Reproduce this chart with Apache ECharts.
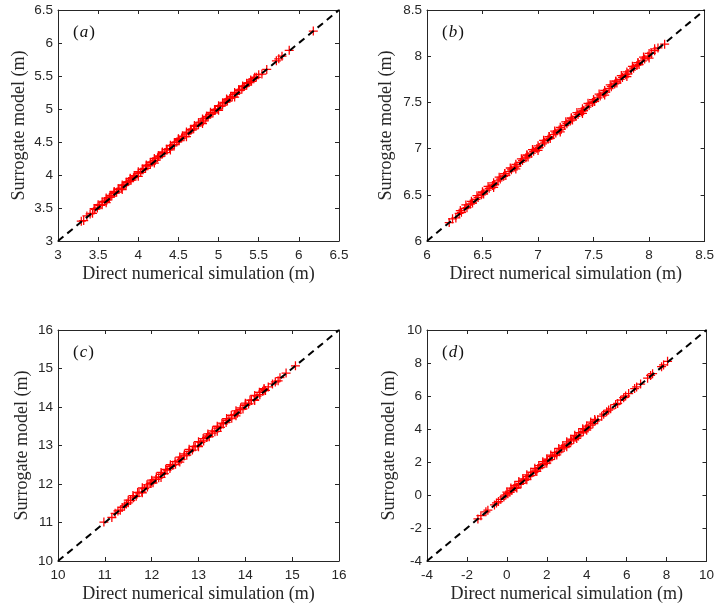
<!DOCTYPE html>
<html>
<head>
<meta charset="utf-8">
<script src="https://cdn.jsdelivr.net/npm/echarts@6/dist/echarts.min.js"></script>
<style>
  html, body { margin: 0; padding: 0; background: #fff; }
  #chart { width: 717px; height: 609px; }
</style>
</head>
<body>
<div id="chart"></div>
<script>
// Surrogate model vs. direct numerical simulation, four cases (a)-(d).
// Each pair is [simulation, surrogate] in metres.
const panelA = [
  [3.29,3.30],[3.32,3.31],[3.36,3.38],[3.40,3.41],[3.43,3.42],[3.46,3.48],[3.49,3.50],[3.52,3.54],
  [3.55,3.55],[3.58,3.60],[3.61,3.62],[3.64,3.66],[3.67,3.68],[3.70,3.72],[3.73,3.74],[3.76,3.78],
  [3.79,3.80],[3.82,3.84],[3.85,3.86],[3.88,3.90],[3.91,3.92],[3.94,3.96],[3.97,3.98],[4.00,4.02],
  [4.03,4.04],[4.06,4.08],[4.09,4.10],[4.12,4.14],[4.15,4.16],[4.18,4.20],[4.21,4.22],[4.24,4.26],
  [4.27,4.28],[4.30,4.32],[4.33,4.34],[4.36,4.38],[4.39,4.40],[4.42,4.44],[4.45,4.46],[4.48,4.50],
  [4.51,4.52],[4.54,4.56],[4.57,4.58],[4.60,4.62],[4.63,4.64],[4.66,4.68],[4.69,4.70],[4.72,4.74],
  [4.75,4.76],[4.78,4.80],[4.81,4.82],[4.84,4.86],[4.87,4.88],[4.90,4.92],[4.93,4.94],[4.96,4.98],
  [4.99,5.00],[5.02,5.04],[5.05,5.06],[5.08,5.10],[5.11,5.12],[5.14,5.16],[5.17,5.18],[5.20,5.22],
  [5.23,5.24],[5.26,5.28],[5.29,5.30],[5.32,5.34],[5.35,5.36],[5.38,5.40],[5.41,5.42],[5.44,5.46],
  [5.47,5.48],[5.50,5.52],[5.54,5.53],[5.60,5.60],[5.72,5.73],[5.75,5.76],[5.79,5.80],[5.88,5.89],
  [6.18,6.18],
  [3.60,3.58],[3.80,3.78],[4.00,3.98],[4.20,4.18],[4.40,4.38],[4.60,4.58],[4.80,4.78],[5.00,4.98],
  [5.20,5.18],[3.70,3.74],[3.90,3.94],[4.10,4.14],[4.30,4.34],[4.50,4.54],[4.70,4.74],[4.90,4.94],
  [5.10,5.14],[5.30,5.34],
  [3.45,3.49],[3.50,3.55],[3.55,3.59],[3.60,3.65],[3.65,3.69],[3.70,3.75],[3.75,3.79],[3.80,3.85],
  [3.85,3.89],[3.90,3.95],[3.95,3.99],[4.00,4.05],[4.05,4.09],[4.10,4.15],[4.15,4.19],[4.20,4.25],
  [4.25,4.29],[4.30,4.35],[4.35,4.39],[4.40,4.45],[4.45,4.49],[4.50,4.55],[4.55,4.59],[4.60,4.65],
  [4.65,4.69],[4.70,4.75],[4.75,4.79],[4.80,4.85],[4.85,4.89],[4.90,4.95],[4.95,4.99],[5.00,5.05],
  [5.05,5.09],[5.10,5.15],[5.15,5.19],[5.20,5.25],[5.25,5.29],[5.30,5.35],[5.35,5.39],[5.40,5.44],
  [5.45,5.48]
];
const panelB = [
  [6.20,6.20],[6.23,6.24],[6.26,6.25],[6.29,6.30],[6.31,6.31],[6.34,6.35],[6.36,6.36],[6.39,6.40],
  [6.41,6.41],[6.44,6.45],[6.46,6.47],[6.49,6.50],[6.51,6.51],[6.54,6.55],[6.56,6.57],[6.59,6.60],
  [6.61,6.61],[6.64,6.65],[6.66,6.67],[6.69,6.70],[6.71,6.71],[6.74,6.75],[6.76,6.77],[6.79,6.80],
  [6.81,6.81],[6.84,6.85],[6.86,6.87],[6.89,6.90],[6.91,6.91],[6.94,6.95],[6.96,6.97],[6.99,7.00],
  [7.01,7.01],[7.04,7.05],[7.06,7.07],[7.09,7.10],[7.11,7.11],[7.14,7.15],[7.16,7.17],[7.19,7.20],
  [7.21,7.21],[7.24,7.25],[7.26,7.27],[7.29,7.30],[7.31,7.31],[7.34,7.35],[7.36,7.37],[7.39,7.40],
  [7.41,7.41],[7.44,7.45],[7.46,7.47],[7.49,7.50],[7.51,7.51],[7.54,7.55],[7.56,7.57],[7.59,7.60],
  [7.61,7.61],[7.64,7.65],[7.66,7.67],[7.69,7.70],[7.71,7.71],[7.74,7.75],[7.76,7.77],[7.79,7.80],
  [7.81,7.81],[7.84,7.85],[7.86,7.87],[7.89,7.90],[7.91,7.91],[7.94,7.95],[7.96,7.97],[7.99,8.00],
  [8.02,8.03],[8.05,8.06],[8.08,8.09],[8.14,8.13],
  [6.60,6.58],[6.80,6.78],[7.00,6.98],[7.20,7.18],[7.40,7.38],[7.60,7.58],[7.80,7.78],[8.00,7.98],
  [6.50,6.53],[6.70,6.73],[6.90,6.93],[7.10,7.13],[7.30,7.33],[7.50,7.53],[7.70,7.73],[7.90,7.93],
  [6.30,6.33],[6.35,6.39],[6.40,6.43],[6.45,6.49],[6.50,6.53],[6.55,6.59],[6.60,6.63],[6.65,6.69],
  [6.70,6.73],[6.75,6.79],[6.80,6.83],[6.85,6.89],[6.90,6.93],[6.95,6.99],[7.00,7.03],[7.05,7.09],
  [7.10,7.13],[7.15,7.19],[7.20,7.23],[7.25,7.29],[7.30,7.33],[7.35,7.39],[7.40,7.43],[7.45,7.49],
  [7.50,7.53],[7.55,7.59],[7.60,7.63],[7.65,7.69],[7.70,7.73],[7.75,7.79],[7.80,7.83],[7.85,7.89],
  [7.90,7.93],[7.95,7.99],[8.00,8.03],[8.05,8.08]
];
const panelC = [
  [10.98,11.01],[11.15,11.13],[11.22,11.24],[11.28,11.30],[11.33,11.32],[11.37,11.39],[11.42,11.43],
  [11.46,11.48],[11.50,11.51],[11.55,11.57],[11.61,11.64],[11.67,11.68],[11.73,11.77],[11.79,11.79],
  [11.85,11.88],[11.91,11.92],[11.97,12.01],[12.03,12.03],[12.09,12.12],[12.15,12.16],[12.21,12.25],
  [12.27,12.27],[12.33,12.36],[12.39,12.40],[12.45,12.49],[12.51,12.51],[12.57,12.60],[12.63,12.64],
  [12.69,12.73],[12.75,12.75],[12.81,12.84],[12.87,12.88],[12.93,12.97],[12.99,12.99],[13.05,13.08],
  [13.11,13.12],[13.17,13.21],[13.23,13.23],[13.29,13.32],[13.35,13.36],[13.41,13.45],[13.47,13.47],
  [13.53,13.56],[13.59,13.60],[13.65,13.69],[13.71,13.71],[13.77,13.80],[13.83,13.84],[13.89,13.93],
  [13.95,13.95],[14.01,14.04],[14.07,14.08],[14.13,14.17],[14.19,14.19],[14.25,14.28],[14.31,14.32],
  [14.37,14.41],[14.43,14.43],[14.49,14.52],[14.58,14.60],[14.64,14.65],[14.70,14.68],[14.74,14.76],
  [14.87,14.88],[15.07,15.07],
  [11.80,11.77],[12.20,12.17],[12.60,12.57],[13.00,12.97],[13.40,13.37],[13.80,13.77],[14.20,14.17],
  [12.00,12.05],[12.40,12.45],[12.80,12.85],[13.20,13.25],[13.60,13.65],[14.00,14.05],[14.40,14.45],
  [11.50,11.58],[11.60,11.70],[11.70,11.78],[11.80,11.90],[11.90,11.98],[12.00,12.10],[12.10,12.18],
  [12.20,12.30],[12.30,12.38],[12.40,12.50],[12.50,12.58],[12.60,12.70],[12.70,12.78],[12.80,12.90],
  [12.90,12.98],[13.00,13.10],[13.10,13.18],[13.20,13.30],[13.30,13.38],[13.40,13.50],[13.50,13.58],
  [13.60,13.70],[13.70,13.78],[13.80,13.90],[13.90,13.98],[14.00,14.10],[14.10,14.18],[14.20,14.30],
  [14.30,14.38],[14.40,14.48]
];
const panelD = [
  [-1.45,-1.45],[-1.30,-1.25],[-1.05,-1.02],[-0.95,-0.92],[-0.62,-0.60],[-0.52,-0.48],[-0.42,-0.40],
  [-0.30,-0.26],[-0.15,-0.12],[-0.05,0.00],[0.05,0.08],[0.15,0.16],[0.25,0.28],[0.35,0.40],
  [0.47,0.47],[0.59,0.64],[0.71,0.70],[0.83,0.88],[0.95,0.96],[1.07,1.12],[1.19,1.18],[1.31,1.36],
  [1.43,1.44],[1.55,1.60],[1.67,1.66],[1.79,1.84],[1.91,1.92],[2.03,2.08],[2.15,2.14],[2.27,2.32],
  [2.39,2.40],[2.51,2.56],[2.63,2.62],[2.75,2.80],[2.87,2.88],[2.99,3.04],[3.11,3.10],[3.23,3.28],
  [3.35,3.36],[3.47,3.52],[3.59,3.58],[3.71,3.76],[3.83,3.84],[3.95,4.00],[4.07,4.06],[4.19,4.24],
  [4.31,4.32],[4.43,4.48],[4.55,4.56],[4.75,4.78],[4.85,4.90],[5.00,5.05],[5.10,5.15],[5.20,5.22],
  [5.45,5.48],[5.55,5.55],[5.70,5.75],[5.85,5.90],[5.95,6.00],[6.10,6.15],[6.40,6.45],[6.50,6.55],
  [6.70,6.72],[7.05,7.08],[7.20,7.25],[7.30,7.35],[7.75,7.78],[7.85,7.88],[8.05,8.10],
  [0.50,0.42],[1.00,0.93],[1.50,1.43],[2.00,1.93],[2.50,2.43],[3.00,2.93],[3.50,3.43],[4.00,3.93],
  [0.00,0.18],[0.20,0.42],[0.40,0.58],[0.60,0.82],[0.80,0.98],[1.00,1.22],[1.20,1.38],[1.40,1.62],
  [1.60,1.78],[1.80,2.02],[2.00,2.18],[2.20,2.42],[2.40,2.58],[2.60,2.82],[2.80,2.98],[3.00,3.22],
  [3.20,3.38],[3.40,3.62],[3.60,3.78],[3.80,4.02],[4.00,4.18],[4.20,4.42],[4.40,4.58]
];

// Axis ranges [min, max, interval] per panel
const rangeA = [3, 6.5, 0.5];
const rangeB = [6, 8.5, 0.5];
const rangeC = [10, 16, 1];
const rangeD = [-4, 10, 2];

const panelTags = ['a', 'b', 'c', 'd'];
const xTitle = 'Direct numerical simulation (m)';
const yTitle = 'Surrogate model (m)';

const panels = [
  { data: panelA, range: rangeA, grid: { left: 58, top: 10, width: 281, height: 231 }, yGap: 30 },
  { data: panelB, range: rangeB, grid: { left: 427, top: 10, width: 280, height: 231 }, yGap: 32 },
  { data: panelC, range: rangeC, grid: { left: 58, top: 330, width: 281, height: 231 }, yGap: 27 },
  { data: panelD, range: rangeD, grid: { left: 427, top: 330, width: 280, height: 231 }, yGap: 29 }
];

const ink = '#262626';
const tickFont = { color: ink, fontSize: 13.5, fontFamily: 'Liberation Sans, Arial, sans-serif' };
const titleFont = { color: ink, fontSize: 18, fontFamily: 'Liberation Serif, serif' };
const plusSymbol = 'path://M-1.4,-10 L1.4,-10 L1.4,-1.4 L10,-1.4 L10,1.4 L1.4,1.4 L1.4,10 L-1.4,10 L-1.4,1.4 L-10,1.4 L-10,-1.4 L-1.4,-1.4 Z';

const grids = [], xAxes = [], yAxes = [], series = [], titles = [];

panels.forEach((p, i) => {
  const [lo, hi, step] = p.range;
  grids.push(Object.assign({ containLabel: false }, p.grid));

  const common = {
    gridIndex: i, type: 'value', min: lo, max: hi, interval: step,
    splitLine: { show: false },
    axisLine: { show: true, onZero: false, lineStyle: { color: ink, width: 1 } },
    axisTick: { show: true, inside: true, length: 4, lineStyle: { color: ink } }
  };
  // bottom / left axes with labels
  xAxes.push(Object.assign({}, common, {
    position: 'bottom',
    axisLabel: Object.assign({ margin: 7 }, tickFont),
    name: xTitle, nameLocation: 'middle', nameGap: 24, nameTextStyle: titleFont
  }));
  yAxes.push(Object.assign({}, common, {
    position: 'left',
    axisLabel: Object.assign({ margin: 5 }, tickFont),
    name: yTitle, nameLocation: 'middle', nameGap: p.yGap, nameTextStyle: titleFont
  }));
  // mirrored top / right axes (box with ticks)
  xAxes.push(Object.assign({}, common, { position: 'top', axisLabel: { show: false } }));
  yAxes.push(Object.assign({}, common, { position: 'right', axisLabel: { show: false } }));

  const xi = i * 2, yi = i * 2;
  series.push({
    type: 'scatter', xAxisIndex: xi, yAxisIndex: yi,
    data: p.data, symbol: plusSymbol, symbolSize: 9,
    itemStyle: { color: '#ff0000', opacity: 1 }, z: 2, silent: true
  });
  series.push({
    type: 'line', xAxisIndex: xi, yAxisIndex: yi,
    data: [[lo, lo], [hi, hi]], symbol: 'none', silent: true, z: 3,
    lineStyle: { color: '#000', width: 2, type: [7, 5] }
  });

  titles.push({
    text: '{p|(}{t|' + panelTags[i] + '}{p|)}',
    left: p.grid.left + 15, top: p.grid.top + 14, padding: 0,
    textStyle: {
      fontWeight: 'normal',
      rich: {
        p: { fontSize: 17, fontWeight: 'normal', fontFamily: 'Liberation Serif, serif', color: '#111' },
        t: { fontSize: 17, fontWeight: 'normal', fontFamily: 'Liberation Serif, serif', fontStyle: 'italic', color: '#111', padding: [0, 1, 0, 1] }
      }
    }
  });
});

const chart = echarts.init(document.getElementById('chart'), null, { renderer: 'canvas' });
chart.setOption({
  animation: false,
  backgroundColor: '#fff',
  title: titles,
  grid: grids,
  xAxis: xAxes,
  yAxis: yAxes,
  series: series
});
</script>
</body>
</html>
